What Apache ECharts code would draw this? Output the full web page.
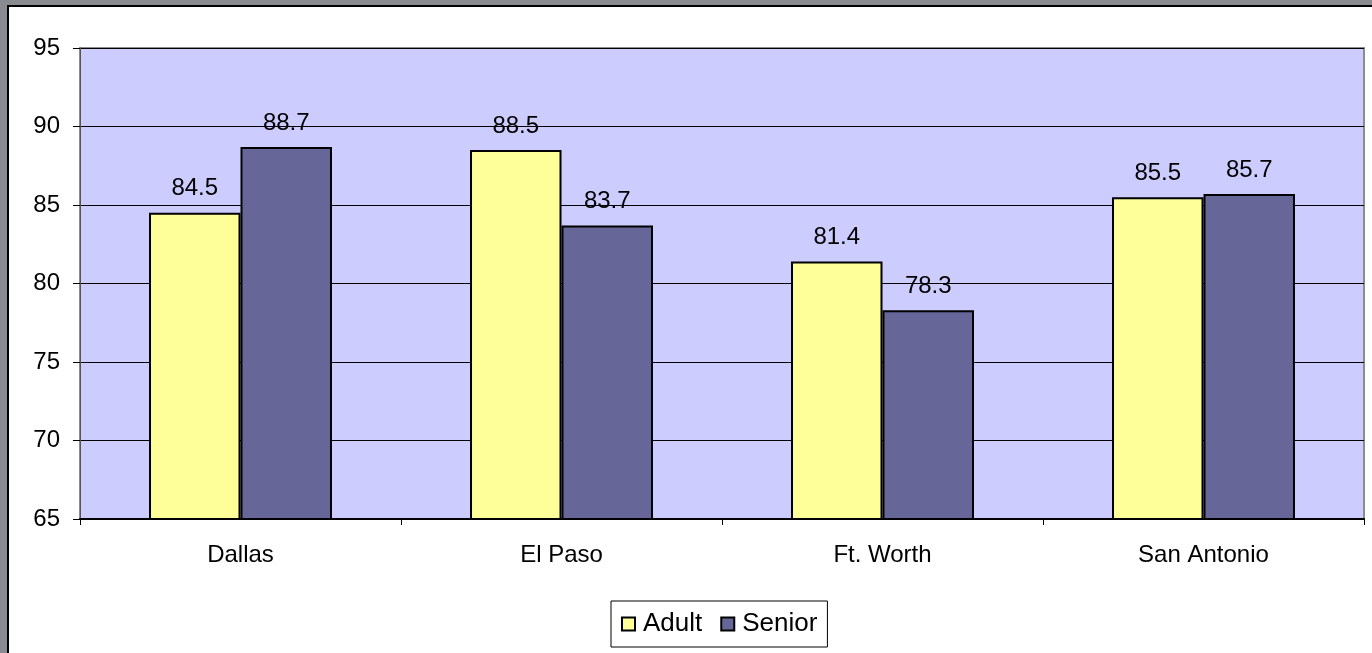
<!DOCTYPE html>
<html>
<head>
<meta charset="utf-8">
<script src="https://cdn.jsdelivr.net/npm/echarts@6/dist/echarts.min.js"></script>
<style>
  html, body { margin: 0; padding: 0; width: 1372px; height: 653px; overflow: hidden; background: #898b90; }
  .frame { position: absolute; left: 7px; top: 5px; width: 1365px; height: 648px; background: #fff;
           border-left: 2px solid #000; border-top: 2px solid #000; box-sizing: border-box; }
  #chart { position: absolute; left: 9px; top: 7px; width: 1363px; height: 646px; }
</style>
</head>
<body>
<div class="frame"></div>
<div id="chart"></div>
<script>
// data
var cities = ['Dallas', 'El Paso', 'Ft. Worth', 'San Antonio']
var adult = [84.5, 88.5, 81.4, 85.5]
var senior = [88.7, 83.7, 78.3, 85.7]
var seriesNames = ['Adult', 'Senior']

var font = 'Arial, "Liberation Sans", sans-serif'
var chart = echarts.init(document.getElementById('chart'))

var option = {
  animation: false,
  textStyle: { fontFamily: font, color: '#000' },
  grid: {
    left: 71, top: 41, right: 8, bottom: 134,
    show: true,
    backgroundColor: '#ccccff',
    borderColor: '#8c8c8c',
    borderWidth: 2
  },
  legend: {
    left: 602, top: 594,
    data: seriesNames,
    icon: 'rect',
    itemWidth: 13, itemHeight: 13,
    itemGap: 18,
    padding: [10, 10, 10, 10],
    borderColor: '#000', borderWidth: 1,
    textStyle: { fontSize: 26, color: '#000', fontFamily: font, padding: [0, 0, 0, 3] },
    itemStyle: { borderColor: '#000', borderWidth: 2 }
  },
  xAxis: {
    type: 'category',
    data: cities,
    axisLine: { lineStyle: { color: '#000', width: 2 } },
    axisTick: { show: true, length: 6, lineStyle: { color: '#000' } },
    axisLabel: { fontSize: 24, color: '#000', margin: 24, fontFamily: font },
    splitLine: { show: false }
  },
  yAxis: {
    type: 'value',
    min: 65, max: 95, interval: 5,
    axisLine: { show: true, lineStyle: { color: '#555', width: 1 } },
    axisTick: { show: true, length: 7, lineStyle: { color: '#000' } },
    axisLabel: { fontSize: 24, color: '#000', margin: 20, fontFamily: font },
    splitLine: { show: true, lineStyle: { color: '#000', width: 1 } }
  },
  series: [
    {
      name: seriesNames[0],
      type: 'bar',
      data: adult,
      barGap: '0%',
      barCategoryGap: '43%',
      itemStyle: { color: '#ffff99', borderColor: '#000', borderWidth: 2 },
      label: { show: true, position: 'top', distance: 12, fontSize: 24, color: '#000', fontFamily: font }
    },
    {
      name: seriesNames[1],
      type: 'bar',
      data: senior,
      itemStyle: { color: '#666699', borderColor: '#000', borderWidth: 2 },
      label: { show: true, position: 'top', distance: 12, fontSize: 24, color: '#000', fontFamily: font }
    }
  ]
}
chart.setOption(option)
</script>
</body>
</html>
